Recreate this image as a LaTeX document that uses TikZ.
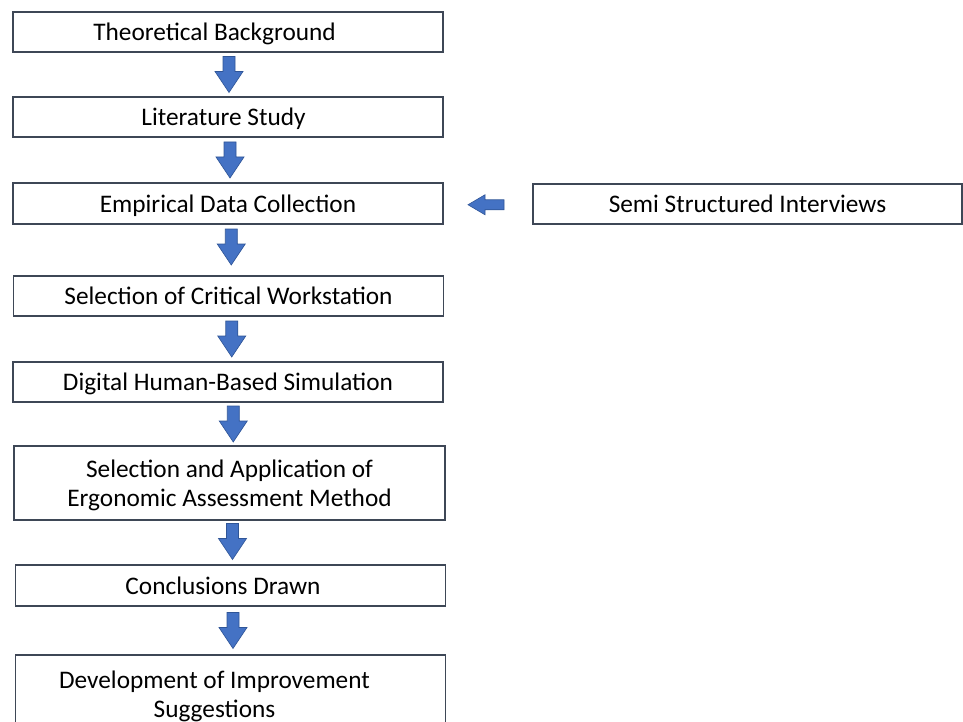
\documentclass[tikz,border=0pt]{standalone}
\usepackage{fontspec}
\setmainfont{Carlito}
\usetikzlibrary{calc}
\definecolor{boxc}{HTML}{3E4756}
\definecolor{arrfill}{HTML}{4472C4}
\definecolor{arrline}{HTML}{2F5597}
\newcommand{\txtoffset}[1]{\hspace*{#1}}
\tikzset{
  x=1pt,y=1pt,
  boxtext/.style={font=\fontsize{25.3}{29.5}\selectfont},
  box/.style={draw=boxc, line width=1.1pt, fill=white, minimum width=430pt, minimum height=40pt, inner sep=0pt, boxtext, align=center, text depth=0pt},
  blockarrow/.style={fill=arrfill, draw=arrline, line width=0.6pt, line join=miter},
  darr/.pic={\path[blockarrow] (-6,18) -- (6,18) -- (6,3) -- (14,3) -- (0,-18) -- (-14,3) -- (-6,3) -- cycle;},
  larr/.pic={\path[blockarrow] (18,5) -- (-1,5) -- (-1,10) -- (-18,0) -- (-1,-10) -- (-1,-5) -- (18,-5) -- cycle;}
}
\begin{document}
\begin{tikzpicture}
\useasboundingbox (0,0) rectangle (963,-722);
\clip (0,0) rectangle (963,-722);
\fill[white] (0,0) rectangle (963,-722);
\node[box] (b1) at (228,-32) {Theoretical Background\txtoffset{27pt}};
\node[box] (b2) at (228,-117) {Literature Study\txtoffset{9pt}};
\node[box, minimum height=41pt] (b3) at (228,-203.5) {Empirical Data Collection};
\node[box, minimum width=429pt] (s) at (747.5,-204) {Semi Structured Interviews};
\node[box] (b4) at (228.5,-296) {Selection of Critical Workstation};
\node[box] (b5) at (228,-382) {Digital Human-Based Simulation};
\node[box, minimum width=431pt, minimum height=74pt] (b6) at (229.5,-483) {Selection and Application of\\Ergonomic Assessment Method};
\node[box, minimum height=41pt] (b7) at (230.5,-585.5) {Conclusions Drawn\txtoffset{15pt}};
\node[box, minimum height=105pt] (b8) at (230.5,-707.5) {};
\node[boxtext, align=center, inner sep=0pt, anchor=north] (t8) at ([xshift=-16pt,yshift=-16pt]b8.north) {Development of Improvement\\Suggestions};
\pic at ([xshift=1pt]$(b1.south)!0.5!(b2.north)$) {darr};
\pic at ([xshift=2pt]$(b2.south)!0.5!(b3.north)$) {darr};
\pic at ([xshift=3pt,yshift=3pt]$(b3.south)!0.5!(b4.north)$) {darr};
\pic at ([xshift=3.5pt]$(b4.south)!0.5!(b5.north)$) {darr};
\pic at ([xshift=4.5pt]$(b5.south)!0.5!(b6.north)$) {darr};
\pic at ([xshift=2.5pt,yshift=1pt]$(b6.south)!0.5!(b7.north)$) {darr};
\pic at ([xshift=2.5pt]$(b7.south)!0.5!(b8.north)$) {darr};
\pic at ([xshift=-2pt,yshift=-1pt]$(b3.east)!0.5!(s.west)$) {larr};
\end{tikzpicture}
\end{document}
